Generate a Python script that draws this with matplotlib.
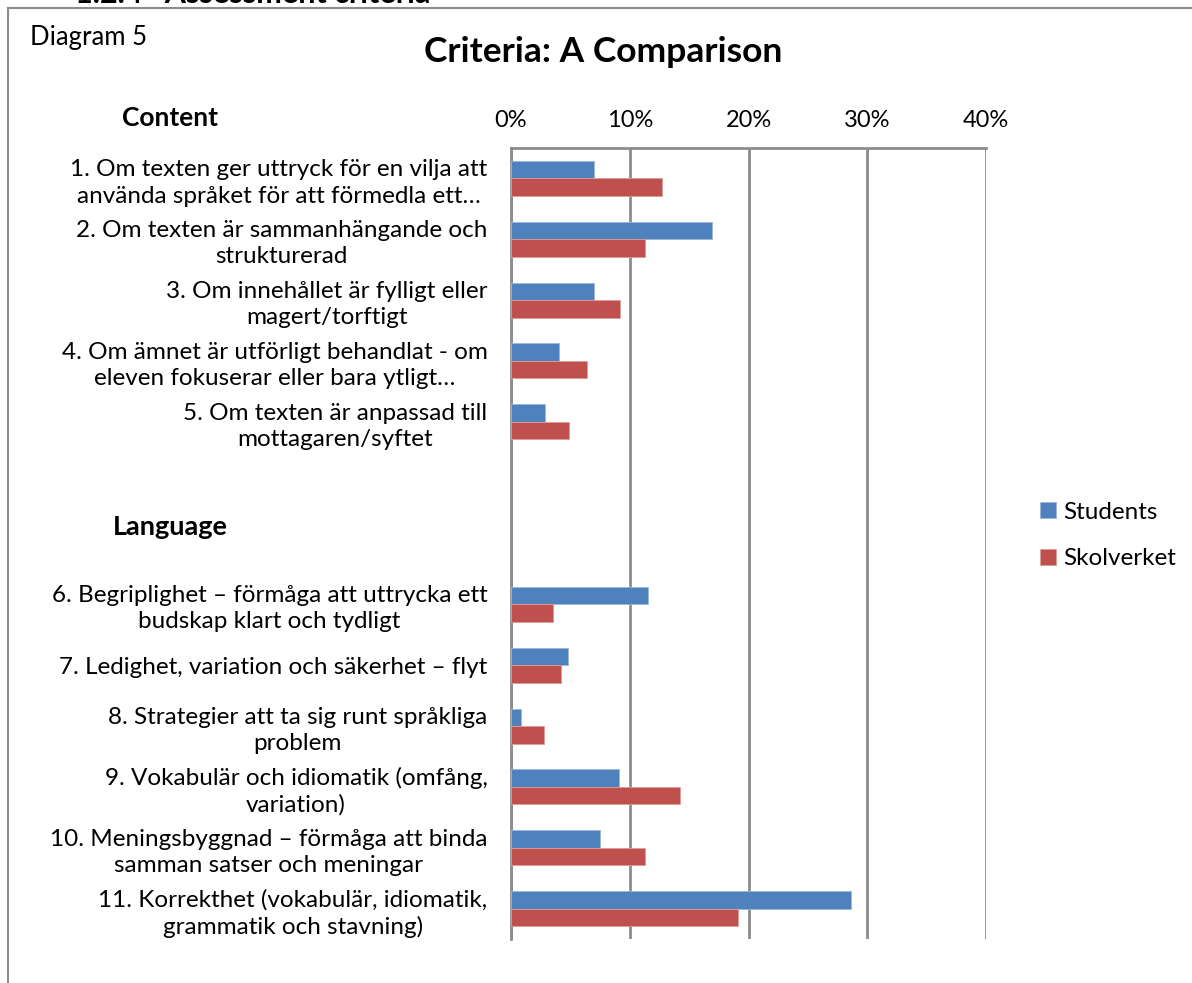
import matplotlib
matplotlib.use("Agg")
import matplotlib.pyplot as plt
from matplotlib.lines import Line2D
import numpy as np

plt.rcParams['font.family'] = ['Lato', 'DejaVu Sans']

# data (percent); None = empty slot in the category axis
labels = [
    "1. Om texten ger uttryck för en vilja att\nanvända språket för att förmedla ett…",
    "2. Om texten är sammanhängande och\nstrukturerad",
    "3. Om innehållet är fylligt eller\nmagert/torftigt",
    "4. Om ämnet är utförligt behandlat - om\neleven fokuserar eller bara ytligt…",
    "5. Om texten är anpassad till\nmottagaren/syftet",
    "",
    "",
    "6. Begriplighet – förmåga att uttrycka ett\nbudskap klart och tydligt",
    "7. Ledighet, variation och säkerhet – flyt",
    "8. Strategier att ta sig runt språkliga\nproblem",
    "9. Vokabulär och idiomatik (omfång,\nvariation)",
    "10. Meningsbyggnad – förmåga att binda\nsamman satser och meningar",
    "11. Korrekthet (vokabulär, idiomatik,\ngrammatik och stavning)",
]
students = [7.0, 16.9, 7.0, 4.0, 2.9, None, None, 11.5, 4.8, 0.8, 9.1, 7.5, 28.6]
skolverket = [12.7, 11.3, 9.2, 6.4, 4.9, None, None, 3.5, 4.2, 2.8, 14.2, 11.3, 19.1]
ticks = [0, 10, 20, 30, 40]

blue = '#4F81BD'
red = '#C0504D'
grid = '#8C8C8C'

fig = plt.figure(figsize=(11.92, 9.83), dpi=100)
ax = fig.add_axes([511/1192, 1-939/983, (986.3-511)/1192, (939-148)/983])

idx = [i for i, v in enumerate(students) if v is not None]
h = 0.287
ax.barh([i - h/2 for i in idx], [students[i] for i in idx], height=h,
        color=blue, edgecolor='#9DB7DA', linewidth=0.6, label='Students', zorder=3)
ax.barh([i + h/2 for i in idx], [skolverket[i] for i in idx], height=h,
        color=red, edgecolor='#DC9C9A', linewidth=0.6, label='Skolverket', zorder=3)

ax.set_ylim(len(labels) - 0.5, -0.5)
ax.set_xlim(0, 40)
ax.set_yticks(range(len(labels)))
ax.set_yticklabels(labels, fontsize=17.5, multialignment='center', linespacing=1.3)
ax.tick_params(axis='y', length=0, pad=17)
ax.xaxis.tick_top()
ax.set_xticks(ticks)
ax.set_xticklabels([f"{t}%" for t in ticks], fontsize=17)
ax.tick_params(axis='x', length=0, pad=12)
ax.grid(axis='x', color=grid, linewidth=2, zorder=0)
for s in ['right', 'bottom']:
    ax.spines[s].set_visible(False)
for s in ['top', 'left']:
    ax.spines[s].set_color(grid)
    ax.spines[s].set_linewidth(2)

leg = ax.legend(loc='center left', bbox_to_anchor=(1.067, 0.51), frameon=False,
                fontsize=17.5, handlelength=0.65, handleheight=0.65,
                handletextpad=0.3, labelspacing=1.05)

# heading of the page above the chart, cut off at the top like in the source
fig.text(75/1192, 1-3/983, "1.2.4   Assessment criteria", ha='left', va='baseline',
         fontsize=22, fontweight='bold')
fig.text(603/1192, 1-52/983, "Criteria: A Comparison", ha='center', va='center',
         fontsize=25.5, fontweight='bold')
fig.text(30/1192, 1-38/983, "Diagram 5", ha='left', va='center', fontsize=18.5)
fig.text(170/1192, 1-118/983, "Content", ha='center', va='center',
         fontsize=19, fontweight='bold')
fig.text(170/1192, 1-527/983, "Language", ha='center', va='center',
         fontsize=19.5, fontweight='bold')

# frame of the embedded chart
fig.add_artist(Line2D([8/1192, 8/1192], [0, 1-8/983], transform=fig.transFigure,
                      color=grid, linewidth=1.5))
fig.add_artist(Line2D([8/1192, 1], [1-8/983, 1-8/983], transform=fig.transFigure,
                      color=grid, linewidth=1.5))

fig.savefig("out.png", dpi=100)
